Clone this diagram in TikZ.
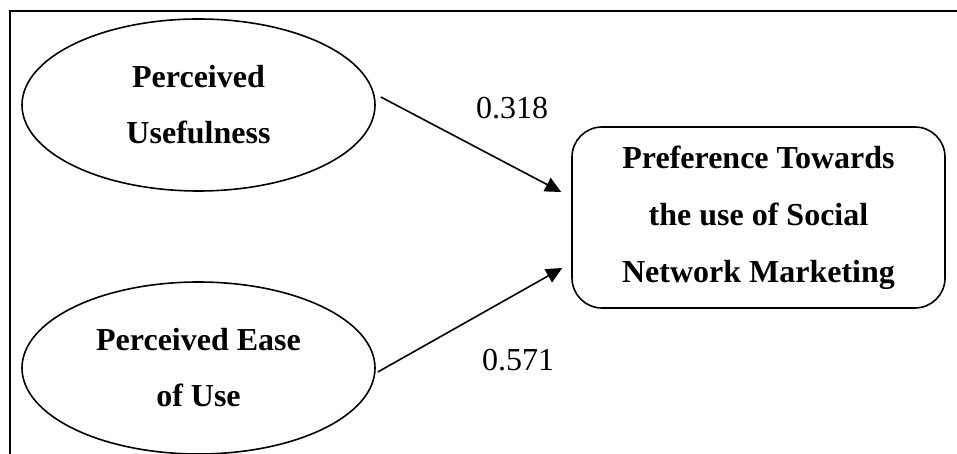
\documentclass[tikz,border=0pt]{standalone}
\usepackage{fontspec}
\setmainfont{Liberation Serif}
\usetikzlibrary{shapes.geometric,arrows.meta}
\begin{document}
\begin{tikzpicture}[x=1pt,y=-1pt,line width=1.6pt,
  factor/.style={draw,ellipse,minimum width=353pt,minimum height=172pt,inner sep=0pt,align=center,font=\bfseries\fontsize{32}{56}\selectfont},
  outcome/.style={draw,rounded corners=30pt,minimum width=373pt,minimum height=181pt,inner sep=0pt,align=center,font=\bfseries\fontsize{32}{57}\selectfont},
  path/.style={-{Triangle[length=16pt,width=15pt]}},
  coef/.style={font=\fontsize{32}{38}\selectfont}]
\useasboundingbox (0,0) rectangle (957,454);
\draw (957,11) -- (10,11) -- (10,454);

\node[factor] (PU) at (198.5,105) {Perceived\\Usefulness};
\node[factor] (PEU) at (198.5,368) {Perceived Ease\\of Use};
\node[outcome] (PT) at (758.5,217.5) {Preference Towards\\the use of Social\\Network Marketing};

\draw[path] ([shift={(5,-8)}]PU.east) -- ([shift={(-10,-25.5)}]PT.west);
\draw[path] ([shift={(2,4)}]PEU.east) -- ([shift={(-9,50.5)}]PT.west);

\node[coef] (C1) at (512,108) {0.318};
\node[coef] (C2) at (518,360) {0.571};
\end{tikzpicture}
\end{document}
